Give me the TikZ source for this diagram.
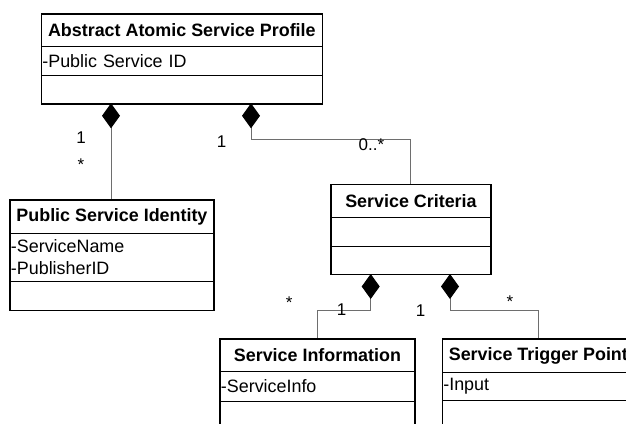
\documentclass[tikz,border=0pt]{standalone}
\usepackage{fontspec}
\setmainfont{Liberation Sans}
\usetikzlibrary{arrows.meta}
\definecolor{linegray}{HTML}{6E6E6E}
\begin{document}
\begin{tikzpicture}[x=1pt,y=-1pt,
  box/.style={draw=black, line width=1.3pt, inner sep=0pt, anchor=north west},
  hdr/.style={box, font=\fontsize{17.9}{22.3}\selectfont\bfseries},
  attr/.style={box, font=\fontsize{17.9}{22.3}\selectfont, align=left, inner xsep=1pt},
  link/.style={draw=linegray, line width=1pt},
  comp/.style={link, {Diamond[length=25pt,width=18pt,color=black]}-},
  mult/.style={font=\fontsize{17}{20}\selectfont, anchor=base, inner sep=0pt}]
\useasboundingbox (0,0) rectangle (626,423);
\clip (0,0) rectangle (626,423);
% Abstract Atomic Service Profile
\node[hdr, minimum width=281pt, minimum height=32.4pt] (Ah) at (40.7,13.3) {Abstract Atomic Service Profile};
\node[attr, minimum width=281pt, text width=279pt, minimum height=29.3pt] (Aa) at (40.7,45.7) {-Public Service ID};
\node[box, minimum width=281pt, minimum height=28.3pt] (Ao) at (40.7,75) {};
% Public Service Identity
\node[hdr, minimum width=204pt, minimum height=33.4pt] (Ph) at (9.3,199.3) {Public Service Identity};
\node[attr, minimum width=204pt, text width=202pt, minimum height=48pt] (Pa) at (9.3,232.7) {-ServiceName\\-PublisherID};
\node[box, minimum width=204pt, minimum height=29.3pt] (Po) at (9.3,280.7) {};
% Service Criteria
\node[hdr, minimum width=160pt, minimum height=33pt] (Sh) at (330.3,183.7) {Service Criteria};
\node[box, minimum width=160pt, minimum height=29pt] (Sa) at (330.3,216.7) {};
\node[box, minimum width=160pt, minimum height=28.3pt] (So) at (330.3,245.7) {};
% Service Information
\node[hdr, minimum width=195pt, minimum height=32.4pt] (Ih) at (219.3,338.3) {Service Information};
\node[attr, minimum width=195pt, text width=193pt, minimum height=30pt] (Ia) at (219.3,370.7) {-ServiceInfo};
\node[box, minimum width=195pt, minimum height=40pt] (Io) at (219.3,400.7) {};
% Service Trigger Point
\node[hdr, minimum width=192pt, minimum height=33.4pt] (Th) at (441.7,338.3) {Service Trigger Point};
\node[attr, minimum width=192pt, text width=190pt, minimum height=28.3pt] (Ta) at (441.7,371.7) {-Input};
\node[box, minimum width=192pt, minimum height=40pt] (To) at (441.7,400) {};
% connectors
\coordinate (c1) at (111,103.3);
\coordinate (c2) at (251,103.3);
\coordinate (e2) at (410.7,183.7);
\coordinate (c3) at (370.7,274);
\coordinate (e3) at (317.3,338.3);
\coordinate (c4) at (450,274);
\coordinate (e4) at (538.3,338.3);
\draw[comp] (c1) -- (c1 |- Ph.north);
\draw[comp] (c2) -- ++(0,36) -| (e2);
\draw[comp] (c3) -- ++(0,36) -| (e3);
\draw[comp] (c4) -- ++(0,36) -| (e4);
% multiplicities
\node[mult] (m1) at (81,143.3) {1};
\node[mult] (m2) at (81,170) {*};
\node[mult] (m3) at (221.7,147.5) {1};
\node[mult, anchor=base west] (m4) at (358.5,150) {0..*};
\node[mult] (m5) at (289.3,308) {*};
\node[mult] (m6) at (341.7,315) {1};
\node[mult] (m7) at (420.7,316) {1};
\node[mult] (m8) at (510,307) {*};
\end{tikzpicture}
\end{document}
